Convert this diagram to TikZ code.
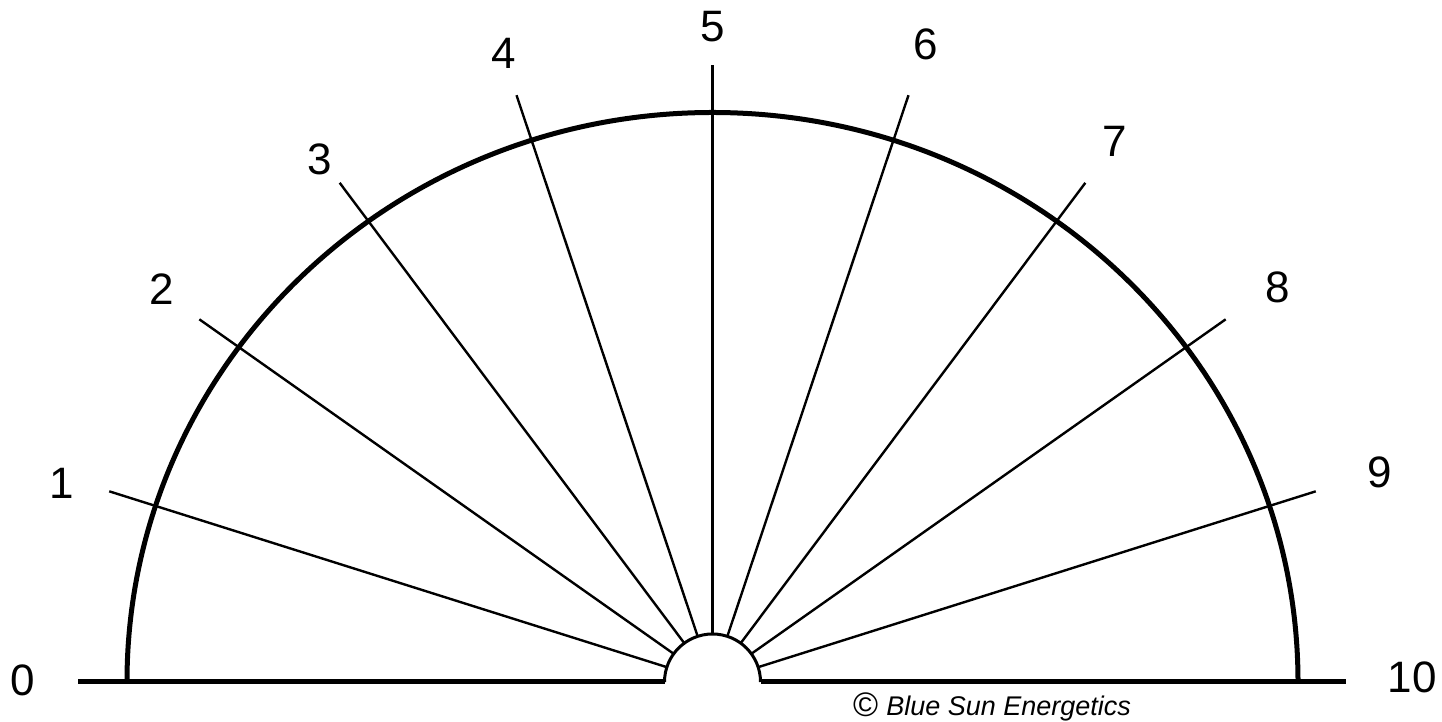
\documentclass[tikz,border=0pt]{standalone}
\usepackage{fontspec}
\setmainfont{Liberation Sans}
\usetikzlibrary{calc}
\begin{document}
\begin{tikzpicture}[x=1pt,y=1pt,
  ray/.style={line width=2.4pt},
  rim/.style={line width=5pt},
  base/.style={line width=5pt},
  hub/.style={line width=3pt},
  num/.style={inner sep=0pt,anchor=center,font=\fontsize{44}{52}\selectfont},
  copy/.style={inner sep=0pt,anchor=west,font=\fontsize{27}{32}\selectfont}]
\useasboundingbox (0,0) rectangle (1442,722);
\fill[white] (0,0) rectangle (1442,722);
\coordinate (C) at (712.5,40);
% baseline
\coordinate (bl0) at (78,40);
\coordinate (bl1) at (664.5,40);
\coordinate (br0) at (760.5,40);
\coordinate (br1) at (1346,40);
\draw[base] (bl0) -- (bl1);
\draw[base] (br0) -- (br1);
% hub semicircle
\draw[hub] (bl1) arc[start angle=180,end angle=0,radius=48];
% rim
\coordinate (rimR) at (1298,40);
\draw[rim] (rimR) arc[start angle=0,end angle=180,x radius=585.5,y radius=569.5];
% rays
\foreach \k in {1,...,9}{
  \pgfmathsetmacro{\th}{180-18*\k}
  \coordinate (s\k) at ($(C)+({48*cos(\th)},{48*sin(\th)})$);
  \coordinate (e\k) at ($(C)+({617*1.028*cos(\th)},{617*sin(\th)})$);
  \draw[ray] (s\k) -- (e\k);
}
% labels
\node[num] (n0) at (23,42) {0};
\node[num] (n1) at (62,239) {1};
\node[num] (n2) at (162,433) {2};
\node[num] (n3) at (320,563) {3};
\node[num] (n4) at (504,669) {4};
\node[num] (n5) at (713,695) {5};
\node[num] (n6) at (926,678) {6};
\node[num] (n7) at (1115,581) {7};
\node[num] (n8) at (1278,435) {8};
\node[num] (n9) at (1380,250) {9};
\node[num] (n10) at (1412,45) {10};
\node[copy] (cp) at (853,15) {\raisebox{-0.05em}{\fontsize{34}{40}\selectfont ©}\hspace{0.3em}\textit{Blue Sun Energetics}};
\end{tikzpicture}
\end{document}
